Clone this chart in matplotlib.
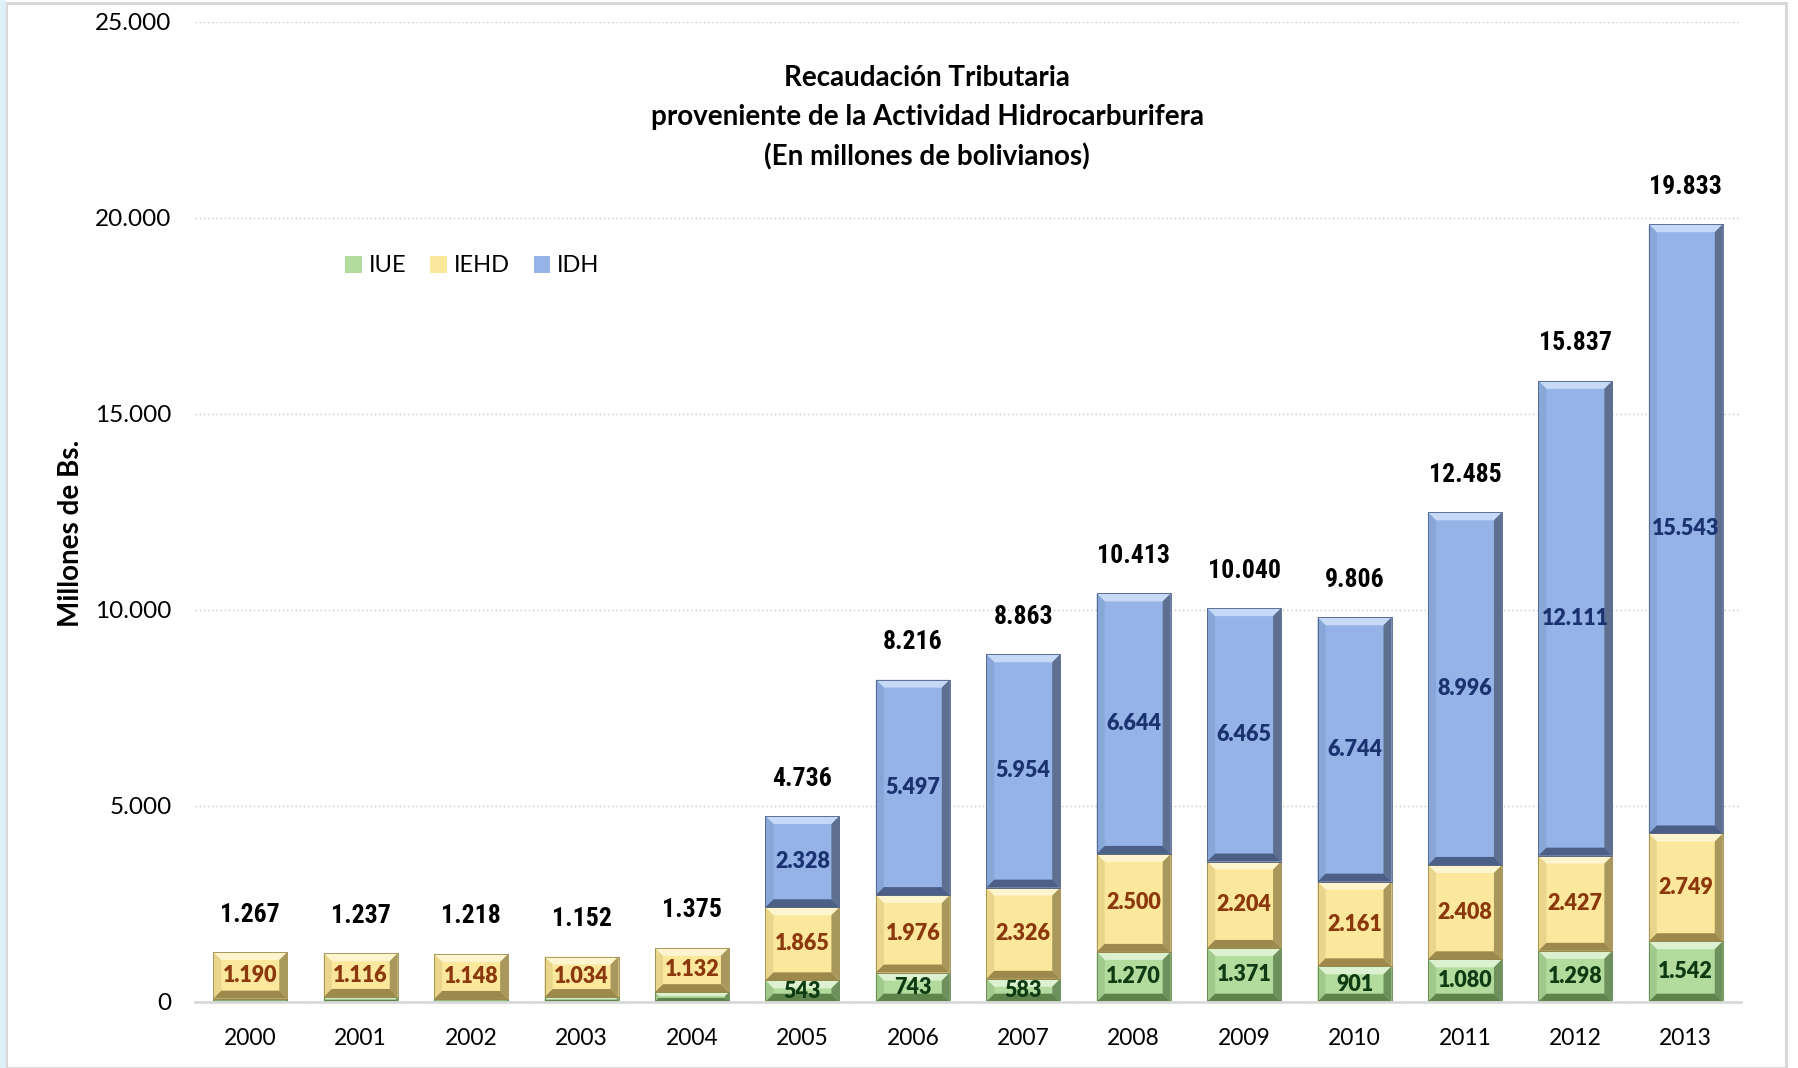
import numpy as np
import matplotlib
matplotlib.use('Agg')
import matplotlib.pyplot as plt
from matplotlib.ticker import FuncFormatter
from matplotlib.patches import Rectangle, Polygon

years = ['2000', '2001', '2002', '2003', '2004', '2005', '2006',
         '2007', '2008', '2009', '2010', '2011', '2012', '2013']
iue = [77, 121, 70, 118, 243, 543, 743, 583, 1270, 1371, 901, 1080, 1298, 1542]
iehd = [1190, 1116, 1148, 1034, 1132, 1865, 1976, 2326, 2500, 2204, 2161, 2408, 2427, 2749]
idh = [0, 0, 0, 0, 0, 2328, 5497, 5954, 6644, 6465, 6744, 8996, 12111, 15543]
totals = [1267, 1237, 1218, 1152, 1375, 4736, 8216, 8863, 10413, 10040, 9806, 12485, 15837, 19833]
# IUE shown only from 2005 on
iue_shown = [False] * 5 + [True] * 9

# face, top band, left side, right side, bottom band
shades = {
    'IUE': ('#b3db9e', '#dcf1cf', '#a0c98b', '#6e905d', '#5e844c'),
    'IEHD': ('#fce89c', '#fef5cf', '#e9d58b', '#a9985b', '#9c894b'),
    'IDH': ('#95b3e7', '#c6d9f7', '#89a6d8', '#5e6f8f', '#4c5f86'),
}


def miles(v):
    s = '{:,.0f}'.format(v)
    return s.replace(',', '.')


plt.rcParams['font.family'] = ['Lato', 'DejaVu Sans']

fig = plt.figure(figsize=(17.98, 10.68), dpi=100)
fig.patches.append(Rectangle((0.0035, 0.0), 0.99, 0.997, transform=fig.transFigure,
                             fill=False, edgecolor='#d6d6d6', linewidth=2))
fig.patches.append(Rectangle((0, 0), 0.0033, 1, transform=fig.transFigure,
                             facecolor='#dff1f8', edgecolor='none'))

ax = fig.add_axes([0.1085, 0.0621, 0.8598, 0.9176])
x = np.arange(len(years))
w = 0.67

iue = np.array(iue)
iehd = np.array(iehd)
idh = np.array(idh)

ax.set_xlim(-0.5, 13.5)
ax.set_ylim(0, 25000)

b1 = ax.bar(x, iue, w, color=shades['IUE'][0], edgecolor='none', label='IUE', zorder=3)
b2 = ax.bar(x, iehd, w, bottom=iue, color=shades['IEHD'][0], edgecolor='none', label='IEHD', zorder=3)
b3 = ax.bar(x, idh, w, bottom=iue + iehd, color=shades['IDH'][0], edgecolor='none', label='IDH', zorder=3)

# bevel look on each bar
ux = ax.transData.transform((1, 0))[0] - ax.transData.transform((0, 0))[0]
uy = ax.transData.transform((0, 1000))[1] - ax.transData.transform((0, 0))[1]
uy = uy / 1000.0
bev = 8.0
for bars, key in [(b1, 'IUE'), (b2, 'IEHD'), (b3, 'IDH')]:
    face, top, left, right, bot = shades[key]
    for p in bars.patches:
        x0, y0 = p.get_x(), p.get_y()
        bw, bh = p.get_width(), p.get_height()
        if bh <= 0:
            continue
        hp = bh * uy
        t = min(bev, hp / 2.5)
        tx, ty = t / ux, t / uy
        x1, y1 = x0 + bw, y0 + bh
        polys = [
            ([(x0, y1), (x1, y1), (x1 - tx, y1 - ty), (x0 + tx, y1 - ty)], top),
            ([(x0, y0), (x0, y1), (x0 + tx, y1 - ty), (x0 + tx, y0 + ty)], left),
            ([(x1, y0), (x1, y1), (x1 - tx, y1 - ty), (x1 - tx, y0 + ty)], right),
            ([(x0, y0), (x1, y0), (x1 - tx, y0 + ty), (x0 + tx, y0 + ty)], bot),
        ]
        for pts, c in polys:
            ax.add_patch(Polygon(pts, closed=True, facecolor=c, edgecolor='none', zorder=3.5))
        ax.add_patch(Rectangle((x0, y0), bw, bh, fill=False, edgecolor=bot, linewidth=0.6, zorder=3.6))

lab = dict(fontsize=15.5, fontweight=800, ha='center', va='center', zorder=5)
for i in range(len(years)):
    if iue_shown[i]:
        ax.text(x[i], iue[i] / 2, miles(iue[i]), color='#0f3b12', **lab)
    ax.text(x[i], iue[i] + iehd[i] / 2, miles(iehd[i]), color='#8a380c', **lab)
    if idh[i] > 0:
        ax.text(x[i], iue[i] + iehd[i] + idh[i] / 2, miles(idh[i]), color='#1a3370', **lab)
    ax.annotate(miles(totals[i]), (x[i], totals[i]), xytext=(0, 27), textcoords='offset points',
                ha='center', va='center', fontsize=18.5, fontweight='bold',
                family=['Roboto Condensed', 'Roboto', 'DejaVu Sans'], color='black')

ax.set_yticks(np.arange(0, 25001, 5000))
ax.yaxis.set_major_formatter(FuncFormatter(lambda v, p: miles(v)))
ax.set_xticks(x)
ax.set_xticklabels(years)
ax.tick_params(axis='both', length=0, colors='black')
ax.tick_params(axis='x', pad=19, labelsize=16.5)
ax.tick_params(axis='y', pad=17, labelsize=17.5)
ax.grid(axis='y', linestyle=(0, (1, 2)), color='#c8c8c8', linewidth=1, zorder=0)
for s in ['top', 'right', 'left']:
    ax.spines[s].set_visible(False)
ax.spines['bottom'].set_color('#d9d9d9')
ax.spines['bottom'].set_linewidth(2)
ax.spines['bottom'].set_zorder(4)

fig.text(0.5156, 1 - 118 / 1068,
         'Recaudación Tributaria\nproveniente de la Actividad Hidrocarburifera\n(En millones de bolivianos)',
         ha='center', va='center', fontsize=20, fontweight='bold', linespacing=1.62)
fig.text(71 / 1798, 1 - 533 / 1068, 'Millones de Bs.', rotation=90, ha='center', va='center',
         fontsize=20, fontweight='bold')

fig.legend(handles=[b1, b2, b3], loc='center left', bbox_to_anchor=(336 / 1798, 1 - 266 / 1068),
           ncol=3, frameon=False, fontsize=17, handlelength=0.7, handleheight=0.7,
           handletextpad=0.3, columnspacing=1.0, borderaxespad=0)

fig.savefig('out.png', dpi=100)
